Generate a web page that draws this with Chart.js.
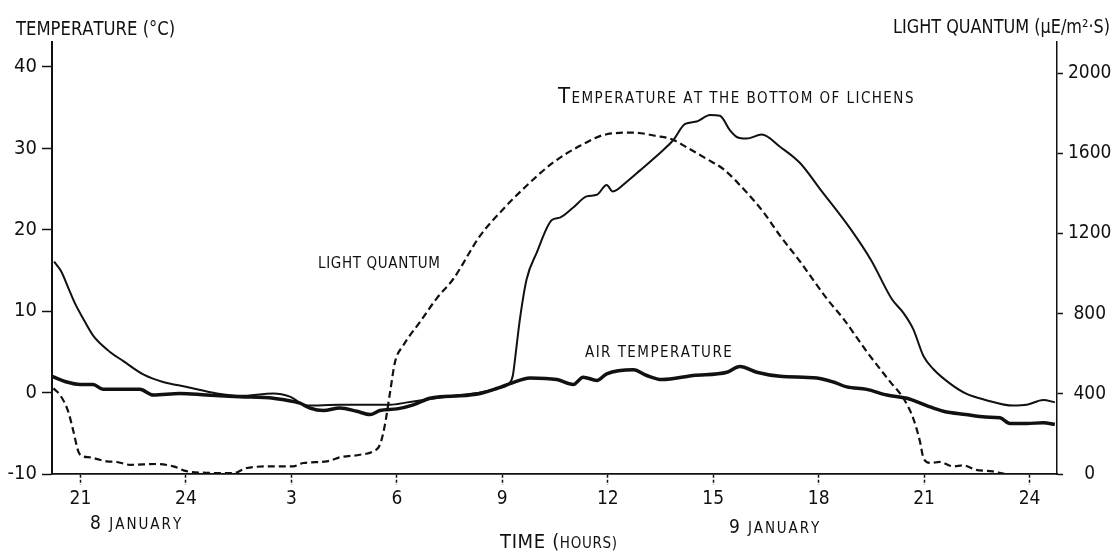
<!DOCTYPE html>
<html>
<head>
<meta charset="utf-8">
<script src="https://cdn.jsdelivr.net/npm/chart.js@4.4.1/dist/chart.umd.min.js"></script>
<style>
  html, body { margin: 0; padding: 0; background: #fff; }
</style>
</head>
<body>
<canvas id="chart" width="1113" height="551"></canvas>
<script>
// hours counted from 0:00 on 8 January
const xTickHours = [21, 24, 27, 30, 33, 36, 39, 42, 45, 48]
const xTickLabels = ["21", "24", "3", "6", "9", "12", "15", "18", "21", "24"]
const tempTicks = [-10, 0, 10, 20, 30, 40]
const lightTicks = [0, 400, 800, 1200, 1600, 2000]

const lichenHours = [20.25, 20.45, 20.65, 20.85, 21.05, 21.36, 21.84, 22.21, 22.80, 23.35,
  24.03, 24.88, 25.54, 26.49, 26.96, 27.44, 28.38, 29.81, 30.29, 30.94,
  31.80, 32.37, 32.84, 33.19, 33.30, 33.40, 33.50, 33.69, 33.98, 34.41,
  34.64, 35.01, 35.40, 35.69, 35.97, 36.14, 36.54, 36.92, 37.58, 37.86,
  38.20, 38.53, 38.91, 39.19, 39.48, 39.67, 39.95, 40.38, 40.90, 41.47,
  42.04, 42.89, 43.50, 44.08, 44.41, 44.69, 44.98, 45.26, 45.74, 46.18,
  46.75, 47.53, 47.92, 48.39, 48.72]
const lichenTemp = [16.1, 14.9, 12.9, 10.9, 9.3, 7.0, 5.0, 3.9, 2.2, 1.3,
  0.7, -0.1, -0.4, -0.1, -0.5, -1.6, -1.5, -1.5, -1.2, -0.8,
  -0.3, 0.0, 0.5, 1.1, 2.1, 5.5, 9.0, 13.9, 17.2, 21.2,
  21.5, 22.7, 24.1, 24.3, 25.5, 24.7, 25.9, 27.3, 29.8, 31.0,
  33.0, 33.3, 34.1, 34.0, 32.2, 31.4, 31.2, 31.7, 30.2, 28.2,
  25.0, 20.2, 16.2, 11.5, 9.8, 7.8, 4.5, 2.9, 1.1, -0.1,
  -0.9, -1.6, -1.5, -0.9, -1.2]

const airHours = [20.19, 20.61, 20.99, 21.36, 21.64, 22.12, 22.69, 23.07, 23.83, 24.59,
  25.54, 26.49, 27.24, 27.53, 27.91, 28.38, 28.86, 29.24, 29.52, 30.00,
  30.47, 30.94, 31.23, 31.80, 32.37, 32.84, 33.22, 33.79, 34.55, 35.02,
  35.30, 35.69, 35.97, 36.73, 37.11, 37.54, 38.43, 39.39, 39.76, 40.24,
  40.90, 41.95, 42.42, 42.80, 43.37, 43.94, 44.51, 45.07, 45.55, 46.18,
  46.75, 47.16, 47.44, 47.92, 48.39, 48.72]
const airTemp = [2.0, 1.3, 1.0, 1.0, 0.4, 0.4, 0.4, -0.3, -0.1, -0.3,
  -0.5, -0.7, -1.3, -1.9, -2.2, -1.9, -2.3, -2.7, -2.2, -2.0,
  -1.5, -0.7, -0.5, -0.4, -0.1, 0.5, 1.1, 1.8, 1.6, 1.0,
  1.9, 1.5, 2.3, 2.8, 2.1, 1.6, 2.1, 2.5, 3.2, 2.5,
  2.0, 1.8, 1.3, 0.7, 0.4, -0.3, -0.7, -1.6, -2.3, -2.7,
  -3.0, -3.1, -3.8, -3.8, -3.7, -3.9]

const lightHours = [20.23, 20.42, 20.65, 20.80, 20.94, 21.08, 21.27, 21.55, 21.75, 22.03,
  22.41, 23.17, 23.64, 24.02, 24.59, 25.35, 25.73, 26.49, 27.05, 27.34,
  28.01, 28.38, 28.95, 29.33, 29.52, 29.66, 29.81, 29.95, 30.18, 30.66,
  31.13, 31.61, 32.37, 33.03, 33.69, 34.45, 35.21, 35.97, 36.73, 37.39,
  37.82, 38.25, 38.82, 39.29, 39.95, 40.43, 40.90, 41.47, 42.23, 42.70,
  43.37, 44.03, 44.41, 44.69, 44.88, 44.98, 45.17, 45.45, 45.83, 46.12,
  46.47, 46.95, 47.35, 48.10, 48.67]
const lightValues = [427, 394, 312, 212, 112, 88, 83, 71, 63, 60,
  46, 50, 38, 14, 6, 4, 30, 38, 38, 55,
  63, 83, 96, 113, 146, 245, 411, 560, 641, 759,
  875, 974, 1189, 1322, 1438, 1554, 1637, 1695, 1703, 1686,
  1670, 1629, 1571, 1521, 1405, 1306, 1189, 1060, 875, 775,
  610, 461, 378, 278, 163, 80, 55, 60, 38, 43,
  21, 13, 0, 0, 0]

const FONT = "'Liberation Sans Narrow', 'DejaVu Sans Condensed', 'Liberation Sans', sans-serif"
const INK = "#111"

const toPoints = (xs, ys) => xs.map((x, i) => ({ x, y: ys[i] }))

// text spread (or squeezed) over a given width, mixed sizes give the small caps look
function drawLabel(ctx, parts, x, baseline, width) {
  ctx.save()
  ctx.fillStyle = INK
  ctx.textBaseline = "alphabetic"
  ctx.textAlign = "left"
  let natural = 0
  let count = 0
  for (const [text, size] of parts) {
    ctx.font = `${size}px ${FONT}`
    natural += ctx.measureText(text).width
    count += text.length
  }
  const squeeze = Math.min(1, width / natural)
  const gap = Math.max(0, (width - natural) / Math.max(count - 1, 1))
  ctx.translate(x, baseline)
  ctx.scale(squeeze, 1)
  let cx = 0
  for (const [text, size] of parts) {
    ctx.font = `${size}px ${FONT}`
    for (const ch of text) {
      ctx.fillText(ch, cx, 0)
      cx += ctx.measureText(ch).width + gap
    }
  }
  ctx.restore()
}

const labels = {
  id: "labels",
  afterDraw(chart) {
    const ctx = chart.ctx
    drawLabel(ctx, [["TEMPERATURE (°C)", 20]], 16, 35, 157)
    drawLabel(ctx, [["LIGHT QUANTUM (µE/m²·S)", 19]], 893, 33, 217)
    drawLabel(ctx, [["T", 22], ["EMPERATURE AT THE BOTTOM OF LICHENS", 15]], 558, 103, 352)
    drawLabel(ctx, [["LIGHT QUANTUM", 15]], 318, 268, 122)
    drawLabel(ctx, [["AIR TEMPERATURE", 15]], 585, 357, 145)
    drawLabel(ctx, [["8", 19], [" JANUARY", 15]], 90, 529, 90)
    drawLabel(ctx, [["9", 19], [" JANUARY", 15]], 729, 533, 89)
    drawLabel(ctx, [["TIME (", 20], ["HOURS)", 15]], 500, 548, 117)
  }
}

new Chart(document.getElementById("chart"), {
  type: "line",
  data: {
    datasets: [
      {
        label: "Temperature at the bottom of lichens",
        data: toPoints(lichenHours, lichenTemp),
        yAxisID: "yTemp",
        borderColor: INK,
        borderWidth: 2,
        pointRadius: 0,
        cubicInterpolationMode: "monotone"
      },
      {
        label: "Air temperature",
        data: toPoints(airHours, airTemp),
        yAxisID: "yTemp",
        borderColor: INK,
        borderWidth: 3.5,
        pointRadius: 0,
        cubicInterpolationMode: "monotone"
      },
      {
        label: "Light quantum",
        data: toPoints(lightHours, lightValues),
        yAxisID: "yLight",
        borderColor: INK,
        borderWidth: 2.2,
        borderDash: [7, 4],
        pointRadius: 0,
        cubicInterpolationMode: "monotone"
      }
    ]
  },
  options: {
    responsive: false,
    animation: false,
    devicePixelRatio: 1,
    layout: { padding: { top: 42, left: 0, right: 0, bottom: 0 } },
    plugins: {
      legend: { display: false },
      tooltip: { enabled: false }
    },
    scales: {
      x: {
        type: "linear",
        min: 20.19,
        max: 48.78,
        afterBuildTicks: s => { s.ticks = xTickHours.map(v => ({ value: v })) },
        afterFit: s => { s.height = 77 },
        ticks: {
          autoSkip: false,
          maxRotation: 0,
          padding: 3,
          color: INK,
          font: { family: FONT, size: 19 },
          callback: (v, i) => xTickLabels[i]
        },
        grid: {
          drawOnChartArea: false,
          tickLength: 11,
          tickColor: INK,
          tickWidth: 1.5,
          tickBorderDash: [3, 2]
        },
        border: { color: INK, width: 1.8 }
      },
      yTemp: {
        type: "linear",
        position: "left",
        min: -10,
        max: 43.07,
        afterBuildTicks: s => { s.ticks = tempTicks.map(v => ({ value: v })) },
        afterFit: s => { s.width = 52 },
        ticks: {
          padding: 5,
          color: INK,
          font: { family: FONT, size: 20 },
          callback: v => String(v)
        },
        grid: {
          drawOnChartArea: false,
          tickLength: 10,
          tickColor: INK,
          tickWidth: 1.5
        },
        border: { color: INK, width: 2 }
      },
      yLight: {
        type: "linear",
        position: "right",
        min: 0,
        max: 2155,
        afterBuildTicks: s => { s.ticks = lightTicks.map(v => ({ value: v })) },
        afterFit: s => { s.width = 56 },
        ticks: {
          padding: 5,
          crossAlign: "center",
          color: INK,
          font: { family: FONT, size: 19 },
          callback: v => String(v)
        },
        grid: {
          drawOnChartArea: false,
          tickLength: 6,
          tickColor: INK,
          tickWidth: 1.5
        },
        border: { color: INK, width: 1.5 }
      }
    }
  },
  plugins: [labels]
})
</script>
</body>
</html>
